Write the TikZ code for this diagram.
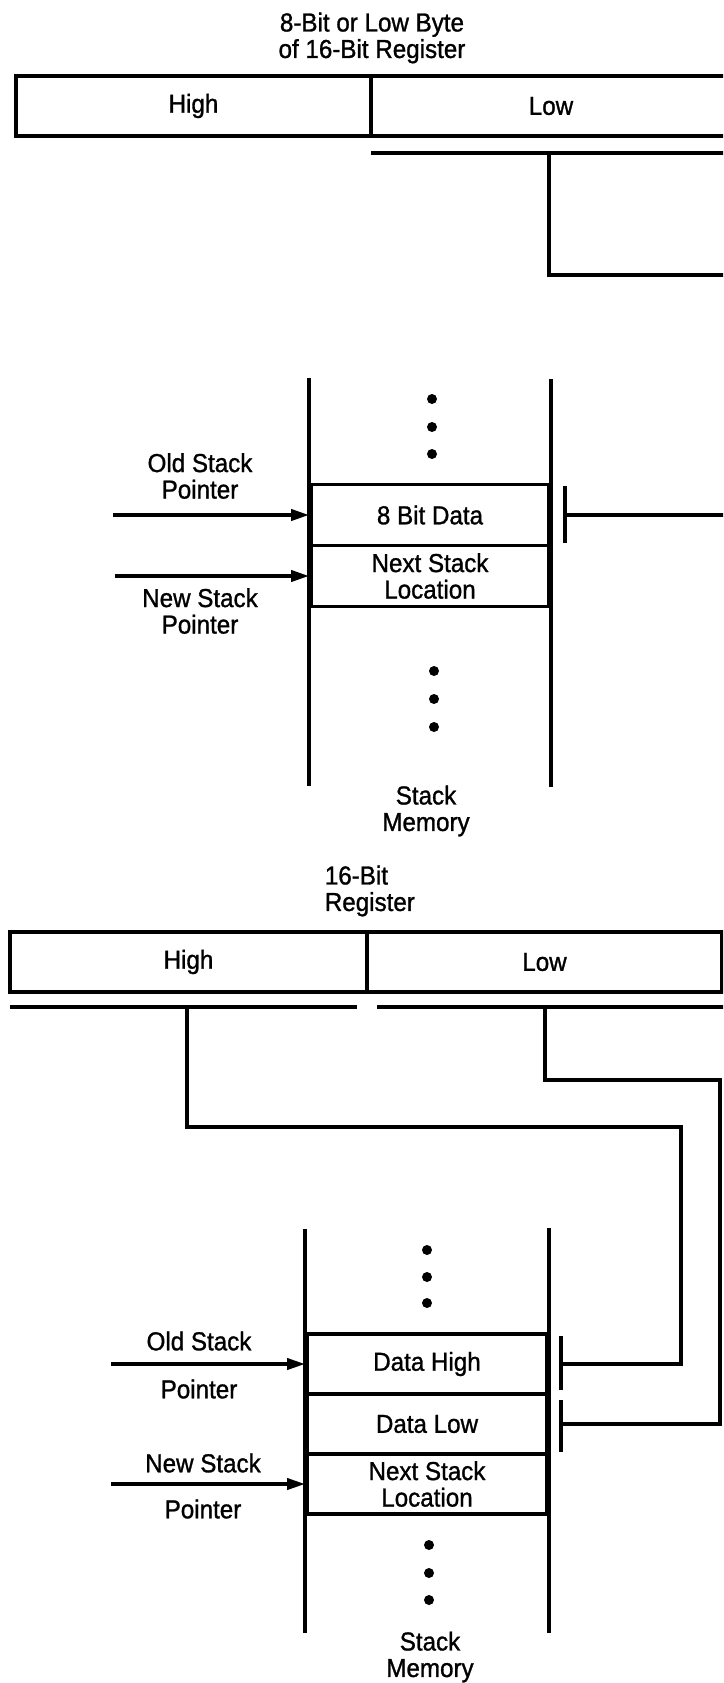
\documentclass[tikz,border=0pt]{standalone}
\usepackage{fontspec}
\setmainfont[FakeStretch=0.93,FakeBold=1.1]{Liberation Sans}
\usetikzlibrary{arrows.meta}
\newcommand\dfont{\fontsize{26}{26.5}\selectfont}
\begin{document}
\begin{tikzpicture}[x=1pt, y=-1pt, line width=3.7pt, font=\dfont,
  reg/.style={draw, minimum height=60pt, inner sep=0pt},
  cell/.style={draw, minimum width=238pt, minimum height=61pt, inner sep=0pt, align=center},
  lbl/.style={align=center, inner sep=0pt},
  ptr/.style={-{Triangle[length=18pt,width=11pt]}},
  bar/.style={line width=4.2pt}]
  \useasboundingbox (0,0) rectangle (723,1683);
  \clip (0,0) rectangle (723,1683);

  % 8ビットレジスタ
  \node[lbl] (title1) at (372,38) {8-Bit or Low Byte\\of 16-Bit Register};
  \node[reg, minimum width=355pt] (high1) at (193.5,106) {High};
  \node[reg, minimum width=360pt] (low1) at (551,106) {Low};
  \coordinate (bus1) at (371,153);
  \draw (bus1) -- (730,153);
  \draw (549,153) |- (730,275);

  % スタック
  \node[cell] (d8) at (430,515) {8 Bit Data};
  \node[cell] (next1) at (430,576) {Next Stack\\Location};
  \draw (d8.west |- 0,378) -- (d8.west |- 0,786);
  \draw (d8.east |- 0,379) -- (d8.east |- 0,787);
  \foreach \y in {399,427,454} \fill (432,\y) circle (5pt);
  \foreach \y in {671,699,727} \fill (434,\y) circle (5pt);
  \node[lbl] (mem1) at (426,811) {Stack\\Memory};

  % ポインタ
  \coordinate (old1) at (113,515);
  \coordinate (new1) at (115,576);
  \draw[ptr] (old1) -- (old1 -| d8.west);
  \draw[ptr] (new1) -- (new1 -| next1.west);
  \node[lbl] (oldlbl1) at (200,476) {Old Stack\\Pointer};
  \node[lbl] (newlbl1) at (200,611) {New Stack\\Pointer};

  % 書き込み
  \coordinate (t8) at (565,515);
  \draw[bar] (565,486) -- (565,543);
  \draw (t8) -- (730,515);

  % 16ビットレジスタ
  \node[lbl, align=left, anchor=west] (title2) at (323,891) {16-Bit\\Register};
  \node[reg, minimum width=357pt] (high2) at (188.5,962) {High};
  \node[reg, minimum width=355pt] (low2) at (544.5,962) {Low};
  \coordinate (busH) at (10,1007);
  \coordinate (busL) at (377,1007);
  \draw (busH) -- (357,1007);
  \draw (busL) -- (730,1007);

  % スタック
  \node[cell, minimum width=240pt, minimum height=60pt] (dh) at (427,1364) {Data High};
  \node[cell, minimum width=240pt, minimum height=60pt] (dl) at (427,1424) {Data Low};
  \node[cell, minimum width=240pt, minimum height=60pt] (next2) at (427,1484) {Next Stack\\Location};
  \draw (dh.west |- 0,1229) -- (dh.west |- 0,1633);
  \draw (dh.east |- 0,1228) -- (dh.east |- 0,1633);
  \foreach \y in {1250,1277,1303} \fill (427,\y) circle (5pt);
  \foreach \y in {1545,1573,1600} \fill (429,\y) circle (5pt);
  \node[lbl] (mem2) at (430,1657) {Stack\\Memory};

  % ポインタ
  \coordinate (old2) at (111,1364);
  \coordinate (new2) at (111,1484);
  \draw[ptr] (old2) -- (old2 -| dh.west);
  \draw[ptr] (new2) -- (new2 -| next2.west);
  \node[lbl] (oldlbl2) at (199,1341) {Old Stack};
  \node[lbl] (ptrlbl2) at (199,1389) {Pointer};
  \node[lbl] (newlbl2) at (203,1463) {New Stack};
  \node[lbl] (ptrlbl3) at (203,1509) {Pointer};

  % 書き込み
  \coordinate (tH) at (561,1364);
  \coordinate (tL) at (561,1424);
  \draw[bar] (561,1336) -- (561,1390);
  \draw[bar] (561,1400) -- (561,1452);
  \draw (187,1007) |- (681,1127) |- (tH);
  \draw (545,1007) |- (720,1080) |- (tL);
\end{tikzpicture}
\end{document}
